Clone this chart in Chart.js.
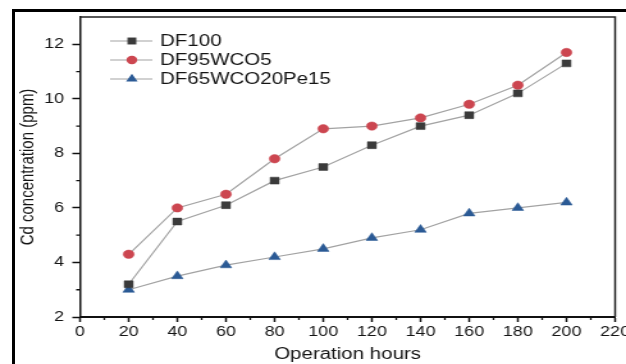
<!DOCTYPE html>
<html>
<head>
<meta charset="utf-8">
<script src="https://cdn.jsdelivr.net/npm/chart.js@4/dist/chart.umd.min.js"></script>
<style>
  html, body { margin: 0; padding: 0; background: #fff; }
  #wrap { position: relative; width: 626px; height: 364px; overflow: hidden; background: #fff; }
  #frame { position: absolute; left: 12px; top: 9px; width: 700px; height: 400px;
           border-left: 3px solid #000; border-top: 3px solid #000; }
  /* the source picture is stretched sideways, so the canvas is too */
  #chart { position: absolute; left: 0; top: 0; transform: scaleX(1.2802); transform-origin: 0 0; }
</style>
</head>
<body>
<div id="wrap">
  <div id="frame"></div>
  <canvas id="chart" width="489" height="364"></canvas>
</div>
<script>
const hours = [20, 40, 60, 80, 100, 120, 140, 160, 180, 200];
const df100 = [3.2, 5.5, 6.1, 7.0, 7.5, 8.3, 9.0, 9.4, 10.2, 11.3];
const df95wco5 = [4.3, 6.0, 6.5, 7.8, 8.9, 9.0, 9.3, 9.8, 10.5, 11.7];
const df65wco20pe15 = [3.0, 3.5, 3.9, 4.2, 4.5, 4.9, 5.2, 5.8, 6.0, 6.2];

const xTicks = [0, 20, 40, 60, 80, 100, 120, 140, 160, 180, 200, 220];
const yTicks = [2, 4, 6, 8, 10, 12];
const xMinor = [10, 30, 50, 70, 90, 110, 130, 150, 170, 190, 210];
const yMinor = [3, 5, 7, 9, 11];

const FONT = 'Liberation Sans, Arial, Helvetica, sans-serif';
const INK = '#141414';

const toPoints = (vals) => hours.map((h, i) => ({ x: h, y: vals[i] }));

function series(label, vals, color, style, radius) {
  return {
    label,
    data: toPoints(vals),
    borderColor: '#a3a3a3',
    borderWidth: 1.2,
    pointStyle: style,
    pointRadius: radius,
    pointBackgroundColor: color,
    pointBorderColor: color,
    pointBorderWidth: 0.5,
    markerColor: color,
    tension: 0,
  };
}

function drawMarker(ctx, style, x, y, r, color) {
  ctx.save();
  ctx.fillStyle = color;
  ctx.beginPath();
  if (style === 'rect') {
    const s = Math.SQRT1_2 * r;
    ctx.rect(x - s, y - s, 2 * s, 2 * s);
  } else if (style === 'triangle') {
    ctx.moveTo(x, y - r);
    ctx.lineTo(x + r * 0.866, y + r * 0.5);
    ctx.lineTo(x - r * 0.866, y + r * 0.5);
    ctx.closePath();
  } else {
    ctx.arc(x, y, r, 0, Math.PI * 2);
  }
  ctx.fill();
  ctx.restore();
}

// legend drawn inside the plot, top left
const insideLegend = {
  id: 'insideLegend',
  afterDraw(chart) {
    const ctx = chart.ctx;
    const rows = [41, 60, 79];
    ctx.save();
    ctx.font = '16px ' + FONT;
    ctx.textBaseline = 'middle';
    ctx.fillStyle = INK;
    chart.data.datasets.forEach((ds, i) => {
      const y = rows[i];
      ctx.strokeStyle = ds.borderColor;
      ctx.lineWidth = 1.2;
      ctx.beginPath();
      ctx.moveTo(86, y);
      ctx.lineTo(119, y);
      ctx.stroke();
      drawMarker(ctx, ds.pointStyle, 103, y, ds.pointRadius, ds.markerColor);
      ctx.fillText(ds.label, 125, y + 1);
    });
    ctx.restore();
  }
};

// top/right box lines and the small minor ticks
const boxAndMinor = {
  id: 'boxAndMinor',
  afterDraw(chart) {
    const { ctx, chartArea: a, scales: { x, y } } = chart;
    ctx.save();
    ctx.strokeStyle = '#222';
    ctx.lineWidth = 1.5;
    ctx.beginPath();
    ctx.moveTo(a.left, a.top);
    ctx.lineTo(a.right, a.top);
    ctx.lineTo(a.right, a.bottom);
    ctx.stroke();

    ctx.strokeStyle = '#111';
    ctx.lineWidth = 1.3;
    ctx.beginPath();
    xMinor.forEach(v => {
      const px = x.getPixelForValue(v);
      ctx.moveTo(px, a.bottom);
      ctx.lineTo(px, a.bottom + 3);
    });
    yMinor.forEach(v => {
      const py = y.getPixelForValue(v);
      ctx.moveTo(a.left, py);
      ctx.lineTo(a.left - 3, py);
    });
    ctx.stroke();
    ctx.restore();
  }
};

new Chart(document.getElementById('chart'), {
  type: 'line',
  data: {
    datasets: [
      series('DF100', df100, '#3a3a3a', 'rect', 4.9),
      series('DF95WCO5', df95wco5, '#cc4650', 'circle', 4.2),
      series('DF65WCO20Pe15', df65wco20pe15, '#2b5a95', 'triangle', 5.2),
    ]
  },
  options: {
    responsive: false,
    devicePixelRatio: 1,
    animation: false,
    layout: { padding: { top: 17, right: 8.5, bottom: 0, left: 0 } },
    plugins: { legend: { display: false }, tooltip: { enabled: false } },
    scales: {
      x: {
        type: 'linear',
        min: 0,
        max: 220,
        afterBuildTicks: (s) => { s.ticks = xTicks.map(v => ({ value: v })); },
        afterFit: (s) => { s.height = 47; s.paddingLeft = 0; s.paddingRight = 0; },
        grid: { drawOnChartArea: false, tickLength: 5, tickColor: '#111', tickWidth: 1.5 },
        border: { display: true, color: '#111', width: 2 },
        ticks: { color: INK, font: { family: FONT, size: 14 }, padding: 2, maxRotation: 0 },
        title: { display: true, text: 'Operation hours', color: INK,
                 font: { family: FONT, size: 16 }, padding: { top: 0, bottom: 0 } }
      },
      y: {
        type: 'linear',
        min: 2,
        max: 13,
        afterBuildTicks: (s) => { s.ticks = yTicks.map(v => ({ value: v })); },
        afterFit: (s) => { s.width = 62.5; s.paddingTop = 0; s.paddingBottom = 0; },
        grid: { drawOnChartArea: false, tickLength: 6, tickColor: '#111', tickWidth: 1.5 },
        border: { display: true, color: '#111', width: 1.5 },
        ticks: { color: INK, font: { family: FONT, size: 14 }, padding: 6.5 },
        title: { display: true, text: 'Cd concentration (ppm)', color: INK,
                 font: { family: FONT, size: 15 }, padding: { top: 12.5, bottom: 0 } }
      }
    }
  },
  plugins: [boxAndMinor, insideLegend]
});
</script>
</body>
</html>
